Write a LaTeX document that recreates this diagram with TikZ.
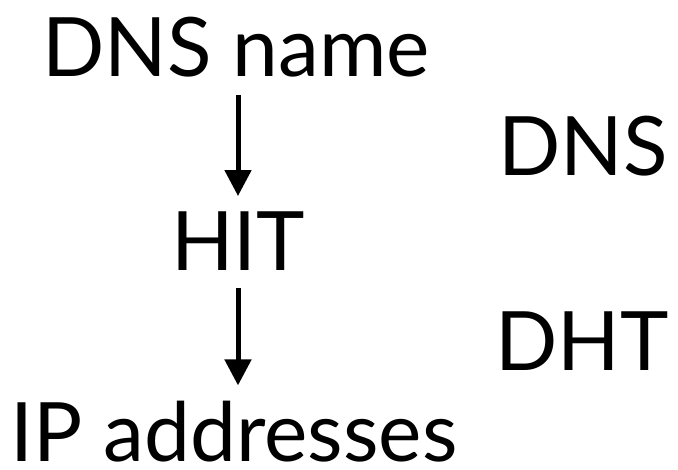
\documentclass[tikz,border=0pt]{standalone}
\usepackage{fontspec}
\setmainfont{Lato}
\usetikzlibrary{arrows.meta}
\begin{document}
\begin{tikzpicture}[x=1pt,y=-1pt,line join=round,
		lbl/.style={inner sep=0pt,anchor=base,font=\fontsize{82}{90}\selectfont},
		arr/.style={line width=5pt,-{Triangle[length=26pt,width=26pt]},shorten <=17pt,shorten >=16pt}]
	\useasboundingbox (0,0) rectangle (678,470);
	% left column
	\node[lbl] (name) at (236,77) {DNS name};
	\node[lbl] (hit) at (238,271) {HIT};
	\node[lbl] (addr) at (234,462) {IP addresses};
	% right column
	\node[lbl] (dns) at (583,176) {DNS};
	\node[lbl] (dht) at (582,371) {DHT};
	\draw[arr] (hit.north |- name.south)--(hit.north);
	\draw[arr] (hit.south)--(hit.south |- addr.north);
\end{tikzpicture}
\end{document}
